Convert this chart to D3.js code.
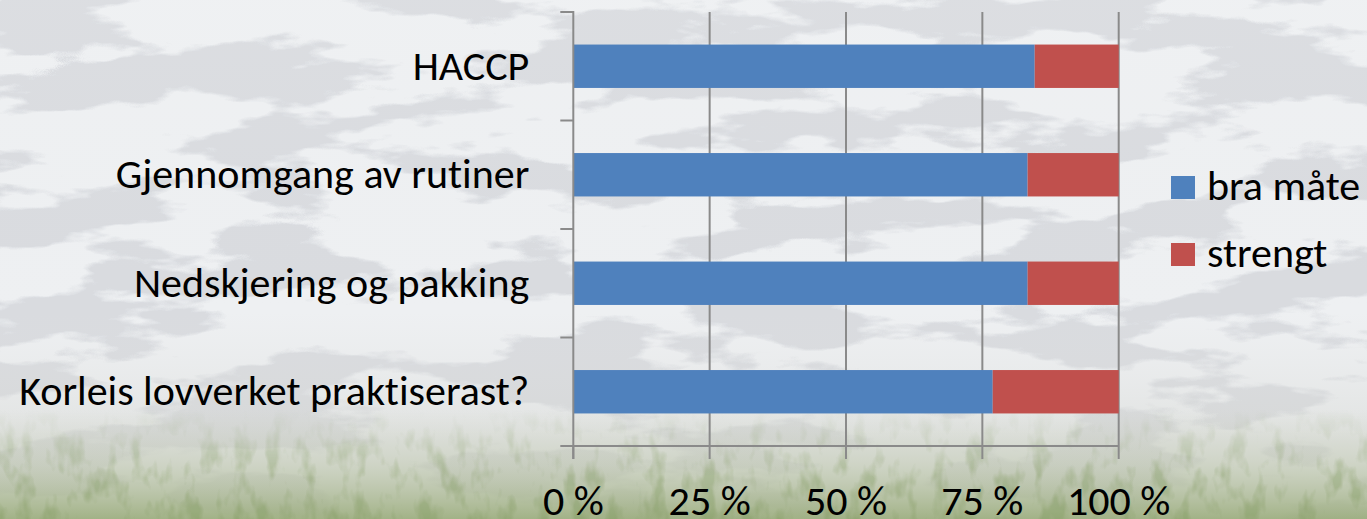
<!DOCTYPE html>
<html>
<head>
<meta charset="utf-8">
<title>Stacked 100% bar</title>
<script src="https://d3js.org/d3.v7.min.js"></script>
<style>
	body {
		margin: 0;
		font-family: Calibri, Carlito, "Open Sans", sans-serif;
	}

	.grid line, .axis line {
		stroke: #8a8a8a;
		stroke-width: 2px;
	}

	text {
		fill: #000;
		font-size: 42px;
		font-variant-ligatures: none;
	}
</style>
</head>
<body>
</body>
<script>
	var categories = ["HACCP", "Gjennomgang av rutiner", "Nedskjering og pakking", "Korleis lovverket praktiserast?"];
	var seriesNames = ["bra måte", "strengt"];
	var braMate = [84.6, 83.3, 83.3, 76.9];
	var strengt = [15.4, 16.7, 16.7, 23.1];
	var tickValues = [0, 25, 50, 75, 100];
	var tickLabels = ["0 %", "25 %", "50 %", "75 %", "100 %"];

	var width = 1367,
			height = 519,
			plotLeft = 573.3,
			plotRight = 1118.7,
			plotTop = 12,
			plotBottom = 446;

	var svg = d3.select("body").append("svg")
			.attr("width", width)
			.attr("height", height);

	////////////////////////////////////////////////////////////
	// Background: misty snow / rock texture with grass at the bottom
	var defs = svg.append("defs");

	var snow = defs.append("filter").attr("id", "snow")
			.attr("filterUnits", "userSpaceOnUse")
			.attr("x", 0).attr("y", 0).attr("width", width).attr("height", height)
			.attr("color-interpolation-filters", "sRGB");
	snow.append("feTurbulence")
			.attr("type", "fractalNoise")
			.attr("baseFrequency", "0.006 0.02")
			.attr("numOctaves", 5)
			.attr("seed", 11);
	snow.append("feColorMatrix")
			.attr("type", "matrix")
			.attr("values", "0 0 0 0 0.83  0 0 0 0 0.84  0 0 0 0 0.86  14 0 0 0 -6.9");

	var fog = defs.append("linearGradient").attr("id", "fog")
			.attr("x1", 0).attr("y1", 0).attr("x2", 0).attr("y2", 1);
	fog.append("stop").attr("offset", "0%").attr("stop-color", "#f6f7f8").attr("stop-opacity", 0.1);
	fog.append("stop").attr("offset", "60%").attr("stop-color", "#e0e0e0").attr("stop-opacity", 0);
	fog.append("stop").attr("offset", "85%").attr("stop-color", "#d2d4ce").attr("stop-opacity", 0.5);

	var grass = defs.append("linearGradient").attr("id", "grass")
			.attr("x1", 0).attr("y1", 0).attr("x2", 0).attr("y2", 1);
	grass.append("stop").attr("offset", "0%").attr("stop-color", "#c8cdbc").attr("stop-opacity", 0);
	grass.append("stop").attr("offset", "50%").attr("stop-color", "#b4bf9e").attr("stop-opacity", 0.4);
	grass.append("stop").attr("offset", "100%").attr("stop-color", "#92a670").attr("stop-opacity", 0.8);

	var fade = defs.append("linearGradient").attr("id", "fade")
			.attr("x1", 0).attr("y1", 0).attr("x2", 0).attr("y2", 1);
	fade.append("stop").attr("offset", "0%").attr("stop-color", "#fff").attr("stop-opacity", 0);
	fade.append("stop").attr("offset", "60%").attr("stop-color", "#fff").attr("stop-opacity", 1);
	defs.append("mask").attr("id", "grassMask")
		.append("rect")
			.attr("y", 410).attr("width", width).attr("height", height - 410)
			.attr("fill", "url(#fade)");

	var blades = defs.append("filter").attr("id", "blades")
			.attr("filterUnits", "userSpaceOnUse")
			.attr("x", 0).attr("y", 410).attr("width", width).attr("height", height - 410)
			.attr("color-interpolation-filters", "sRGB");
	blades.append("feTurbulence")
			.attr("type", "fractalNoise")
			.attr("baseFrequency", "0.06 0.03")
			.attr("numOctaves", 3)
			.attr("seed", 3);
	blades.append("feColorMatrix")
			.attr("type", "matrix")
			.attr("values", "0 0 0 0 0.48  0 0 0 0 0.58  0 0 0 0 0.34  4 0 0 0 -2.0");

	svg.append("rect")
			.attr("width", width).attr("height", height)
			.attr("fill", "#eef0f2");
	svg.append("rect")
			.attr("width", width).attr("height", height)
			.attr("filter", "url(#snow)")
			.attr("opacity", 0.8);
	svg.append("rect")
			.attr("width", width).attr("height", height)
			.attr("fill", "url(#fog)");
	svg.append("rect")
			.attr("y", 410).attr("width", width).attr("height", height - 410)
			.attr("fill", "url(#grass)");
	svg.append("g")
			.attr("mask", "url(#grassMask)")
		.append("rect")
			.attr("y", 410).attr("width", width).attr("height", height - 410)
			.attr("filter", "url(#blades)")
			.attr("opacity", 0.35);

	////////////////////////////////////////////////////////////
	// Scales
	var x = d3.scaleLinear()
			.domain([0, 100])
			.range([plotLeft, plotRight]);

	var y = d3.scaleBand()
			.domain(categories)
			.range([plotTop, plotBottom])
			.paddingInner(0.6)
			.paddingOuter(0.3);

	var color = d3.scaleOrdinal()
			.domain(seriesNames)
			.range(["#4f81bd", "#c0504d"]);

	var rows = categories.map(function(c, i) {
		return { category: c, "bra måte": braMate[i], "strengt": strengt[i] };
	});

	var stacked = d3.stack().keys(seriesNames)(rows);

	////////////////////////////////////////////////////////////
	// Gridlines
	svg.append("g")
			.attr("class", "grid")
		.selectAll("line")
		.data(tickValues.slice(1))
		.enter().append("line")
			.attr("x1", function(d) { return x(d); })
			.attr("x2", function(d) { return x(d); })
			.attr("y1", plotTop)
			.attr("y2", plotBottom);

	////////////////////////////////////////////////////////////
	// Bars
	svg.append("g")
		.selectAll("g")
		.data(stacked)
		.enter().append("g")
			.attr("fill", function(d) { return color(d.key); })
		.selectAll("rect")
		.data(function(d) { return d; })
		.enter().append("rect")
			.attr("x", function(d) { return x(d[0]); })
			.attr("width", function(d) { return x(d[1]) - x(d[0]); })
			.attr("y", function(d) { return y(d.data.category); })
			.attr("height", y.bandwidth());

	////////////////////////////////////////////////////////////
	// Axes
	var xAxis = svg.append("g")
			.attr("class", "axis")
			.attr("transform", "translate(0," + plotBottom + ")");
	xAxis.append("line")
			.attr("x1", plotLeft - 13).attr("x2", plotRight);
	xAxis.selectAll(".tick")
		.data(tickValues)
		.enter().append("line")
			.attr("x1", function(d) { return x(d); })
			.attr("x2", function(d) { return x(d); })
			.attr("y1", 0)
			.attr("y2", 13);
	xAxis.selectAll("text")
		.data(tickValues)
		.enter().append("text")
			.attr("x", function(d) { return x(d); })
			.attr("y", 69)
			.attr("text-anchor", "middle")
			.text(function(d, i) { return tickLabels[i]; });

	var yAxis = svg.append("g")
			.attr("class", "axis");
	yAxis.append("line")
			.attr("x1", plotLeft).attr("x2", plotLeft)
			.attr("y1", plotTop - 1).attr("y2", plotBottom + 13);
	var bounds = categories.map(function(c) { return y(c) - y.step() * y.paddingInner() / 2; });
	bounds[0] = plotTop;
	yAxis.selectAll(".tick")
		.data(bounds)
		.enter().append("line")
			.attr("x1", plotLeft - 13)
			.attr("x2", plotLeft)
			.attr("y1", function(d) { return d; })
			.attr("y2", function(d) { return d; });
	yAxis.selectAll("text")
		.data(categories)
		.enter().append("text")
			.attr("x", plotLeft - 44)
			.attr("y", function(d) { return y(d) + y.bandwidth() / 2; })
			.attr("dy", "0.32em")
			.attr("text-anchor", "end")
			.text(function(d) { return d; });

	////////////////////////////////////////////////////////////
	// Legend
	var legend = svg.append("g")
			.attr("transform", "translate(1171,176)");
	var item = legend.selectAll("g")
		.data(seriesNames)
		.enter().append("g")
			.attr("transform", function(d, i) { return "translate(0," + i * 67 + ")"; });
	item.append("rect")
			.attr("width", 24)
			.attr("height", 23)
			.attr("fill", function(d) { return color(d); });
	item.append("text")
			.attr("x", 36)
			.attr("y", 24)
			.text(function(d) { return d; });
</script>
</html>
